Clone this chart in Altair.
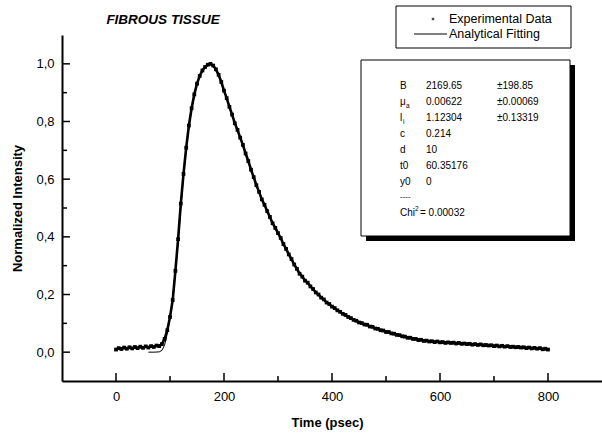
import altair as alt
import pandas as pd

# ---- data ----
EXP_TIME = list(range(0, 805, 5))
EXP_INT = [
    0.009, 0.014, 0.011, 0.016, 0.012, 0.017, 0.013, 0.018, 0.014, 0.019, 0.015, 0.020, 0.016, 0.021, 0.018, 0.023, 0.021, 0.028,
    0.046, 0.076, 0.122, 0.181, 0.282, 0.392, 0.515, 0.618, 0.709, 0.786, 0.846, 0.894, 0.931, 0.958, 0.977, 0.989, 0.997, 1.000,
    0.994, 0.981, 0.962, 0.937, 0.907, 0.881, 0.851, 0.824, 0.794, 0.771, 0.744, 0.719, 0.689, 0.663, 0.633, 0.607, 0.579, 0.556,
    0.530, 0.511, 0.489, 0.469, 0.447, 0.431, 0.413, 0.396, 0.375, 0.358, 0.339, 0.323, 0.304, 0.289, 0.272, 0.262, 0.248, 0.241,
    0.228, 0.219, 0.207, 0.200, 0.189, 0.183, 0.172, 0.167, 0.158, 0.153, 0.145, 0.140, 0.133, 0.129, 0.122, 0.118, 0.112, 0.109,
    0.103, 0.101, 0.096, 0.095, 0.089, 0.088, 0.082, 0.081, 0.076, 0.075, 0.070, 0.070, 0.065, 0.064, 0.060, 0.059, 0.055, 0.054,
    0.050, 0.050, 0.046, 0.046, 0.042, 0.043, 0.039, 0.040, 0.037, 0.038, 0.035, 0.037, 0.034, 0.035, 0.032, 0.034, 0.032, 0.033,
    0.030, 0.032, 0.029, 0.030, 0.028, 0.029, 0.026, 0.028, 0.025, 0.027, 0.024, 0.025, 0.023, 0.024, 0.021, 0.023, 0.020, 0.022,
    0.019, 0.021, 0.018, 0.019, 0.017, 0.018, 0.016, 0.017, 0.014, 0.016, 0.013, 0.015, 0.012, 0.014, 0.010, 0.012, 0.009,
]

FIT_TIME = [60, 70, 80, 85, 90, 95, 100, 105, 110, 115, 120, 125, 130, 135, 140, 145, 150, 155, 160, 165,
            170, 175, 180, 185, 190, 200, 210, 220, 230, 240, 250, 260, 270, 280, 290, 300, 310, 320, 330,
            340, 350, 360, 370, 380, 390, 400, 420, 440, 460, 480, 500, 520, 540, 560, 580, 600, 620, 640,
            660, 680, 700, 720, 740, 760, 780, 800]
FIT_INT = [0.0, 0.0, 0.001, 0.006, 0.025, 0.065, 0.12, 0.19, 0.28, 0.38, 0.5, 0.61, 0.70, 0.78, 0.84, 0.89,
           0.93, 0.958, 0.978, 0.99, 0.997, 0.999, 0.995, 0.982, 0.963, 0.91, 0.853, 0.796, 0.745, 0.69,
           0.634, 0.58, 0.532, 0.49, 0.449, 0.413, 0.376, 0.34, 0.305, 0.274, 0.249, 0.228, 0.208, 0.19,
           0.174, 0.159, 0.134, 0.113, 0.097, 0.083, 0.071, 0.061, 0.051, 0.044, 0.038, 0.035, 0.032, 0.030,
           0.027, 0.025, 0.022, 0.020, 0.018, 0.016, 0.014, 0.011]

Y_MAJOR = [0.0, 0.2, 0.4, 0.6, 0.8, 1.0]
Y_MINOR = [0.1, 0.3, 0.5, 0.7, 0.9]
X_MAJOR = [0, 200, 400, 600, 800]
X_MINOR = [100, 300, 500, 700]

PARAM_LABELS = ["B", "μ", "l", "c", "d", "t0", "y0"]
PARAM_VALUES = ["2169.65", "0.00622", "1.12304", "0.214", "10", "60.35176", "0"]
PARAM_ERRORS = ["±198.85", "±0.00069", "±0.13319", "", "", "", ""]
CHI2 = "0.00032"

FONT = "Liberation Sans"
W, H = 540, 346

exp_df = pd.DataFrame({"t": EXP_TIME, "v": EXP_INT})
fit_df = pd.DataFrame({"t": FIT_TIME, "v": FIT_INT})
one = pd.DataFrame({"k": [0]})

xs = alt.Scale(domain=[-100, 900], nice=False, zero=False)
ys = alt.Scale(domain=[-0.1, 1.1], nice=False, zero=False)

x_axis = alt.Axis(values=X_MAJOR, format="d", ticks=False, grid=False, domainWidth=2, domainColor="black",
                  labelFont=FONT, labelFontSize=13, labelColor="black", labelPadding=9,
                  title="Time (psec)", titleFont=FONT, titleFontSize=13, titleFontWeight="bold",
                  titleColor="black", titleX=265, titleY=41, titleBaseline="middle", titleAlign="center")
y_axis = alt.Axis(values=Y_MAJOR, labelExpr="replace(format(datum.value, '.1f'), '.', ',')", ticks=False,
                  grid=False, domainWidth=2, domainColor="black", labelFont=FONT, labelFontSize=13,
                  labelColor="black", labelPadding=8, title="Normalized Intensity", titleFont=FONT,
                  titleFontSize=13, titleFontWeight="bold", titleColor="black", titleX=-45, titleY=173,
                  titleAngle=-90, titleBaseline="middle", titleAlign="center")

exp_line = alt.Chart(exp_df).mark_line(color="black", strokeWidth=2.6).encode(
    x=alt.X("t:Q", scale=xs, axis=x_axis), y=alt.Y("v:Q", scale=ys, axis=y_axis))
exp_pts = alt.Chart(exp_df).mark_square(color="black", size=14, opacity=1).encode(
    x=alt.X("t:Q", scale=xs), y=alt.Y("v:Q", scale=ys))
fit_line = alt.Chart(fit_df).mark_line(color="black", strokeWidth=1).encode(
    x=alt.X("t:Q", scale=xs), y=alt.Y("v:Q", scale=ys))

# inward ticks
ymaj = alt.Chart(pd.DataFrame({"v": Y_MAJOR})).mark_rule(color="black", strokeWidth=1.5).encode(
    y=alt.Y("v:Q", scale=ys), x=alt.value(0), x2=alt.value(8))
ymin = alt.Chart(pd.DataFrame({"v": Y_MINOR})).mark_rule(color="black", strokeWidth=1.5).encode(
    y=alt.Y("v:Q", scale=ys), x=alt.value(0), x2=alt.value(5))
xmaj = alt.Chart(pd.DataFrame({"t": X_MAJOR})).mark_rule(color="black", strokeWidth=1.5).encode(
    x=alt.X("t:Q", scale=xs), y=alt.value(H), y2=alt.value(H - 8))
xmin = alt.Chart(pd.DataFrame({"t": X_MINOR})).mark_rule(color="black", strokeWidth=1.5).encode(
    x=alt.X("t:Q", scale=xs), y=alt.value(H), y2=alt.value(H - 5))


def txt(s, x, y, size=10, weight="normal", style="normal", align="left"):
    return alt.Chart(one).mark_text(text=s, font=FONT, fontSize=size, fontWeight=weight, fontStyle=style,
                                    align=align, baseline="middle", color="black").encode(
        x=alt.value(x), y=alt.value(y))


def box(x1, x2, y1, y2, fill, stroke=None, sw=0):
    kw = dict(fill=fill)
    if stroke:
        kw.update(stroke=stroke, strokeWidth=sw)
    return alt.Chart(one).mark_rect(**kw).encode(
        x=alt.value(x1), x2=alt.value(x2), y=alt.value(y1), y2=alt.value(y2))


layers = [exp_line, exp_pts, fit_line, ymaj, ymin, xmaj, xmin]

# title
layers.append(txt("FIBROUS TISSUE", 101, -15, size=13.5, weight="bold", style="italic", align="center"))

# legend
layers.append(box(334, 509, -29, 13, "white", "black", 1))
layers.append(alt.Chart(one).mark_square(color="black", size=6).encode(x=alt.value(371), y=alt.value(-16)))
layers.append(alt.Chart(one).mark_rule(color="black", strokeWidth=1).encode(
    x=alt.value(352), x2=alt.value(385), y=alt.value(-1)))
layers.append(txt("Experimental Data", 387, -16, size=12.5))
layers.append(txt("Analytical Fitting", 387, -1, size=12.5))

# parameter box with shadow
layers.append(box(304, 513, 30, 206, "black"))
layers.append(box(299, 508, 25, 201, "white", "black", 1))
row_y = [51, 67, 83, 99, 115, 131, 147]
cx_l, cx_v, cx_e = 338, 364, 435
for lab, val, err, yy in zip(PARAM_LABELS, PARAM_VALUES, PARAM_ERRORS, row_y):
    layers.append(txt(lab, cx_l, yy))
    layers.append(txt(val, cx_v, yy))
    if err:
        layers.append(txt(err, cx_e, yy))
layers.append(txt("a", cx_l + 6, row_y[1] + 4, size=6.5))
layers.append(txt("i", cx_l + 3, row_y[2] + 4, size=6.5))
layers.append(txt("----", cx_l, 162, size=8))
layers.append(txt("Chi", cx_l, 178))
layers.append(txt("2", cx_l + 15, 174, size=6.5))
layers.append(txt("= " + CHI2, cx_l + 20, 178))

chart = alt.layer(*layers).properties(
    width=W, height=H,
    padding={"left": 62, "top": 35, "right": 0, "bottom": 54},
    autosize=alt.AutoSizeParams(type="none"),
    background="white",
).configure_view(stroke=None)

chart.save("out.html", embed_options={"renderer": "svg", "actions": False})
